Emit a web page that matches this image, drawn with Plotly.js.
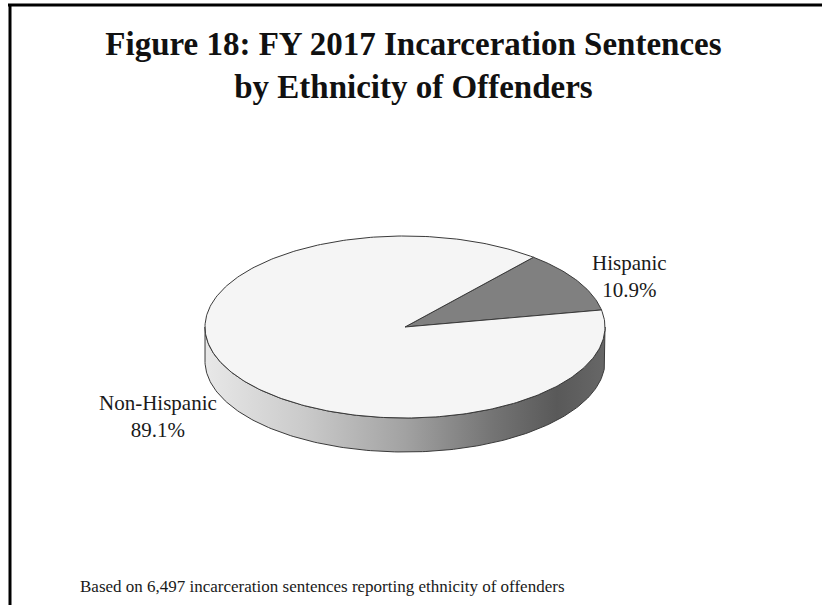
<!DOCTYPE html>
<html>
<head>
<meta charset="utf-8">
<script src="https://cdn.plot.ly/plotly-3.0.1.min.js"></script>
<style>
  html, body { margin: 0; padding: 0; background: #ffffff; }
  #chart { width: 822px; height: 605px; }
</style>
</head>
<body>
<div id="chart"></div>
<script>
// ---- data ----
const labels = ['Hispanic', 'Non-Hispanic'];
const percents = [10.9, 89.1];
const sliceColors = ['#808080', '#f5f5f5'];
const titleText = 'Figure 18: FY 2017 Incarceration Sentences<br>by Ethnicity of Offenders';
const noteText = 'Based on 6,497 incarceration sentences reporting ethnicity of offenders';

// ---- geometry (drawing style, not data) ----
const CX = 405, CY = 327, RX = 200, RY = 91, DEPTH = 34;
const START_DEG = 10.8;   // first slice starts here, runs counter-clockwise
const SERIF = '"Liberation Serif", "Times New Roman", serif';

function pt(deg, dy) {
  const r = deg * Math.PI / 180;
  return [CX + RX * Math.cos(r), CY - RY * Math.sin(r) + (dy || 0)];
}

const traces = [];

// side wall (front half of the disc)
(function () {
  const xs = [], ys = [];
  for (let d = 180; d <= 360; d += 1) { const p = pt(d, 0); xs.push(p[0]); ys.push(p[1]); }
  for (let d = 360; d >= 180; d -= 1) { const p = pt(d, DEPTH); xs.push(p[0]); ys.push(p[1]); }
  xs.push(xs[0]); ys.push(ys[0]);
  traces.push({
    type: 'scatter', mode: 'lines', x: xs, y: ys, fill: 'toself',
    fillgradient: {
      type: 'horizontal',
      colorscale: [[0, '#e8e8e8'], [0.25, '#cacaca'], [0.5, '#a2a2a2'], [0.72, '#747474'], [0.88, '#595959'], [1, '#676767']]
    },
    line: { color: '#3a3a3a', width: 1 },
    hoverinfo: 'skip', showlegend: false
  });
})();

// top face slices
let acc = 0;
labels.forEach((lab, i) => {
  const a0 = START_DEG + acc / 100 * 360;
  acc += percents[i];
  const a1 = START_DEG + acc / 100 * 360;
  const xs = [CX], ys = [CY];
  const n = Math.max(8, Math.ceil((a1 - a0) / 1));
  for (let k = 0; k <= n; k++) {
    const p = pt(a0 + (a1 - a0) * k / n, 0);
    xs.push(p[0]); ys.push(p[1]);
  }
  xs.push(CX); ys.push(CY);
  traces.push({
    type: 'scatter', mode: 'lines', x: xs, y: ys, fill: 'toself',
    fillcolor: sliceColors[i],
    line: { color: '#3a3a3a', width: 1 },
    name: lab, hoverinfo: 'skip', showlegend: false
  });
});

// slice labels
const labelPos = [[629, 276], [158, 416]];
const annotations = labels.map((lab, i) => ({
  x: labelPos[i][0], y: labelPos[i][1], xref: 'x', yref: 'y',
  text: lab + '<br>' + percents[i].toFixed(1) + '%',
  showarrow: false, xanchor: 'center', yanchor: 'middle',
  font: { family: SERIF, size: 21, color: '#1a1a1a' }
}));
annotations.push({
  x: 78, y: 586, xref: 'x', yref: 'y', text: noteText, showarrow: false,
  xanchor: 'left', yanchor: 'middle',
  font: { family: SERIF, size: 17, color: '#1a1a1a' }
});

const layout = {
  width: 822, height: 605,
  margin: { l: 0, r: 0, t: 0, b: 0 },
  paper_bgcolor: '#ffffff', plot_bgcolor: '#ffffff',
  showlegend: false,
  title: {
    text: titleText,
    x: 0.503, xanchor: 'center',
    y: 1 - 55 / 605, yref: 'container', yanchor: 'top',
    font: { family: SERIF, size: 33, weight: 700, color: '#111111' }
  },
  xaxis: { range: [0, 822], visible: false, fixedrange: true },
  yaxis: { range: [605, 0], visible: false, fixedrange: true },
  shapes: [
    { type: 'line', xref: 'x', yref: 'y', x0: 8, x1: 822, y0: 5, y1: 5, line: { color: '#000', width: 3 } },
    { type: 'line', xref: 'x', yref: 'y', x0: 10, x1: 10, y0: 4, y1: 605, line: { color: '#000', width: 3 } }
  ],
  annotations: annotations
};

Plotly.newPlot('chart', traces, layout, { staticPlot: true, displayModeBar: false });
</script>
</body>
</html>
